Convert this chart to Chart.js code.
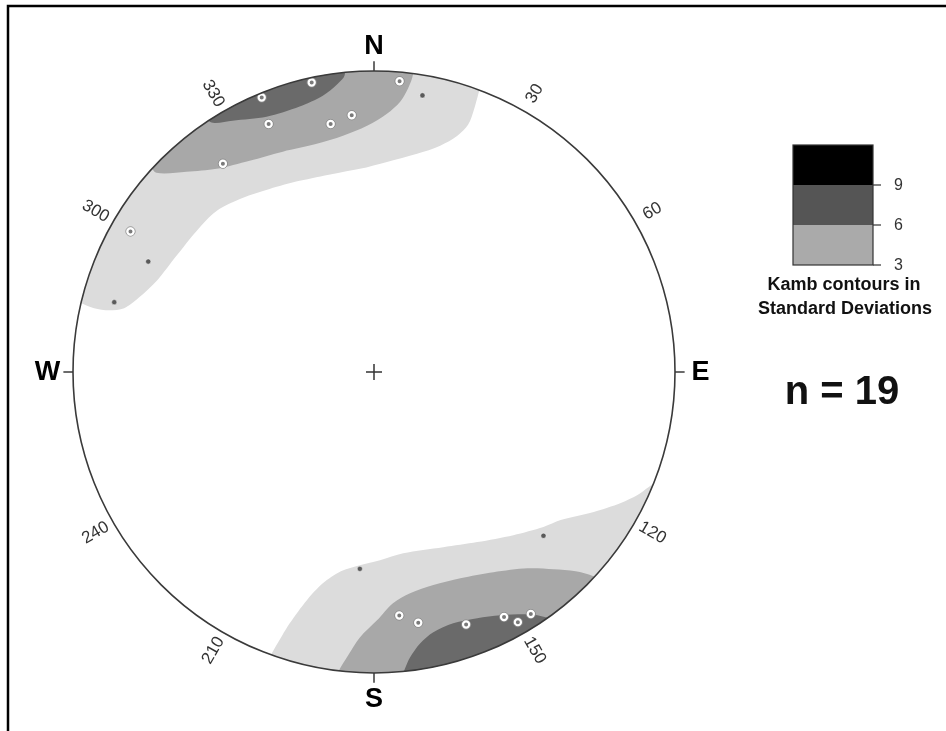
<!DOCTYPE html>
<html>
<head>
<meta charset="utf-8">
<script src="https://cdn.jsdelivr.net/npm/chart.js@4/dist/chart.umd.min.js"></script>
<style>
  html, body { margin: 0; padding: 0; background: #ffffff; }
  canvas { display: block; }
</style>
</head>
<body>
<canvas id="net" width="946" height="731"></canvas>
<script>
// Poles on the equal-area net, in unit-circle coordinates (east = +x, north = +y)
const poleX = [-0.373, -0.207, 0.085, 0.161, -0.350, -0.144, -0.074, -0.502,
               -0.809, -0.750, -0.863,
               -0.047, 0.563, 0.084, 0.147, 0.306, 0.432, 0.478, 0.521];
const poleY = [0.912, 0.962, 0.966, 0.919, 0.824, 0.824, 0.853, 0.692,
               0.467, 0.367, 0.232,
               -0.654, -0.544, -0.809, -0.833, -0.839, -0.814, -0.831, -0.804];
// true = pole drawn with a white halo
const poleHalo = [true, true, true, false, true, true, true, true,
                  true, false, false,
                  false, false, true, true, true, true, true, true];

// Kamb contour outlines (unit-circle coordinates); anything beyond the primitive circle is clipped
const north3 = [[-0.98, 0.232], [-0.93, 0.212], [-0.88, 0.205], [-0.83, 0.212], [-0.78, 0.248],
                [-0.72, 0.305], [-0.657, 0.385], [-0.59, 0.468], [-0.523, 0.535], [-0.437, 0.578],
                [-0.347, 0.608], [-0.247, 0.635], [-0.137, 0.658], [-0.047, 0.675], [0.043, 0.698],
                [0.143, 0.725], [0.22, 0.752], [0.277, 0.785], [0.313, 0.822], [0.333, 0.875],
                [0.347, 0.925], [0.36, 0.975], [0.42, 1.3], [0.0, 1.45], [-0.7, 1.3],
                [-1.35, 0.7], [-1.35, 0.232], [-1.05, 0.232]];
const north6 = [[-0.747, 0.692], [-0.723, 0.662], [-0.623, 0.665], [-0.523, 0.675], [-0.413, 0.702],
                [-0.303, 0.732], [-0.19, 0.758], [-0.103, 0.785], [-0.023, 0.818], [0.043, 0.858],
                [0.087, 0.898], [0.113, 0.942], [0.13, 0.992], [0.15, 1.25], [-0.3, 1.35],
                [-0.95, 1.05], [-0.9, 0.75]];
const north9 = [[-0.57, 0.85], [-0.535, 0.828], [-0.47, 0.835], [-0.357, 0.848], [-0.247, 0.882],
                [-0.17, 0.918], [-0.123, 0.955], [-0.097, 0.988], [-0.1, 1.2], [-0.5, 1.15],
                [-0.7, 0.98]];
const south3 = [[-0.353, -0.958], [-0.33, -0.918], [-0.28, -0.835], [-0.223, -0.758], [-0.17, -0.702],
                [-0.11, -0.662], [-0.047, -0.642], [0.02, -0.625], [0.097, -0.602], [0.23, -0.582],
                [0.343, -0.565], [0.463, -0.542], [0.563, -0.515], [0.62, -0.492], [0.73, -0.465],
                [0.82, -0.435], [0.877, -0.408], [0.913, -0.382], [0.953, -0.358], [1.25, -0.4],
                [1.15, -1.05], [0.3, -1.35], [-0.5, -1.25]];
const south6 = [[-0.13, -1.018], [-0.113, -0.985], [-0.09, -0.948], [-0.047, -0.882], [0.01, -0.825],
                [0.063, -0.768], [0.12, -0.735], [0.197, -0.708], [0.287, -0.685], [0.397, -0.665],
                [0.51, -0.652], [0.597, -0.655], [0.67, -0.662], [0.727, -0.678], [0.77, -0.708],
                [1.05, -1.0], [0.3, -1.35], [-0.1, -1.25]];
const south9 = [[0.087, -1.025], [0.103, -0.985], [0.12, -0.948], [0.153, -0.902], [0.197, -0.865],
                [0.263, -0.835], [0.343, -0.818], [0.42, -0.808], [0.497, -0.805], [0.543, -0.808],
                [0.57, -0.815], [0.62, -0.825], [0.95, -1.0], [0.4, -1.35], [0.1, -1.25]];

// Contour fills on the net and the colour-bar scale
const contourFills = ['#dcdcdc', '#a8a8a8', '#6a6a6a'];
const kambLevels = [3, 6, 9];
const kambColors = ['#aaaaaa', '#555555', '#000000'];

// Rim labels
const azimuthLabels = [30, 60, 120, 150, 210, 240, 300, 330];
const cardinalNames = ['N', 'E', 'S', 'W'];
const cardinalAzimuths = [0, 90, 180, 270];

const FONT = "'Liberation Sans', Arial, Helvetica, sans-serif";

function toXY(list) { return list.map(p => ({ x: p[0], y: p[1] })); }

function contourDataset(pts, color, order) {
  return {
    type: 'line',
    data: toXY(pts),
    backgroundColor: color,
    borderWidth: 0,
    borderColor: 'rgba(0,0,0,0)',
    pointRadius: 0,
    pointHoverRadius: 0,
    fill: 'shape',
    tension: 0.3,
    order: order
  };
}

const haloPts = [], plainPts = [];
poleX.forEach((x, i) => (poleHalo[i] ? haloPts : plainPts).push({ x: x, y: poleY[i] }));

function geom(chart) {
  const xs = chart.scales.x, ys = chart.scales.y;
  const cx = xs.getPixelForValue(0), cy = ys.getPixelForValue(0);
  const r = xs.getPixelForValue(1) - cx;
  const at = (az, k) => {
    const a = az * Math.PI / 180;
    return { x: xs.getPixelForValue(k * Math.sin(a)), y: ys.getPixelForValue(k * Math.cos(a)) };
  };
  return { cx, cy, r, at };
}

// Clips the contour fills to the primitive circle and draws the net furniture
const stereonetPlugin = {
  id: 'stereonet',
  beforeDatasetsDraw(chart) {
    const { ctx } = chart;
    const g = geom(chart);
    ctx.save();
    ctx.beginPath();
    ctx.arc(g.cx, g.cy, g.r, 0, Math.PI * 2);
    ctx.clip();
  },
  afterDatasetsDraw(chart) {
    const { ctx } = chart;
    ctx.restore();
    const g = geom(chart);

    // outer frame
    ctx.save();
    ctx.strokeStyle = '#000';
    ctx.lineWidth = 2.5;
    ctx.beginPath();
    ctx.moveTo(8, 731);
    ctx.lineTo(8, 6);
    ctx.lineTo(946, 6);
    ctx.stroke();

    // primitive circle
    ctx.strokeStyle = '#3a3a3a';
    ctx.lineWidth = 1.6;
    ctx.beginPath();
    ctx.arc(g.cx, g.cy, g.r, 0, Math.PI * 2);
    ctx.stroke();

    // cardinal ticks and letters
    ctx.lineWidth = 1.5;
    ctx.fillStyle = '#000';
    ctx.font = 'bold 27px ' + FONT;
    ctx.textAlign = 'center';
    ctx.textBaseline = 'middle';
    cardinalNames.forEach((name, i) => {
      const p0 = g.at(cardinalAzimuths[i], 1.0);
      const p1 = g.at(cardinalAzimuths[i], 1.032);
      ctx.beginPath();
      ctx.moveTo(p0.x, p0.y);
      ctx.lineTo(p1.x, p1.y);
      ctx.stroke();
      const pl = g.at(cardinalAzimuths[i], 1.085);
      ctx.fillText(name, pl.x, pl.y + 1);
    });

    // azimuth numbers, written along the radius
    ctx.fillStyle = '#333';
    ctx.font = '17px ' + FONT;
    azimuthLabels.forEach(az => {
      const p = g.at(az, 1.068);
      let rot = (az - 90) * Math.PI / 180;
      if (az > 180) rot += Math.PI;
      ctx.save();
      ctx.translate(p.x, p.y);
      ctx.rotate(rot);
      ctx.fillText(String(az), 0, 0);
      ctx.restore();
    });

    // Kamb colour bar
    const bx = 793, bw = 80, bTop = 145, bh = 40;
    const bands = kambLevels.length;
    for (let i = 0; i < bands; i++) {
      ctx.fillStyle = kambColors[i];
      ctx.fillRect(bx, bTop + (bands - 1 - i) * bh, bw, bh);
    }
    ctx.strokeStyle = '#333';
    ctx.lineWidth = 1.2;
    ctx.strokeRect(bx, bTop, bw, bh * bands);
    ctx.fillStyle = '#333';
    ctx.font = '16px ' + FONT;
    ctx.textAlign = 'left';
    kambLevels.forEach((lv, i) => {
      const y = bTop + (bands - i) * bh;
      ctx.beginPath();
      ctx.moveTo(bx + bw, y);
      ctx.lineTo(bx + bw + 8, y);
      ctx.stroke();
      ctx.fillText(String(lv), bx + bw + 21, y + 1);
    });
    ctx.fillStyle = '#111';
    ctx.font = 'bold 18px ' + FONT;
    ctx.textAlign = 'center';
    ctx.fillText('Kamb contours in', 844, 285);
    ctx.fillText('Standard Deviations', 845, 309);

    ctx.fillStyle = '#111';
    ctx.font = 'bold 40px ' + FONT;
    ctx.fillText('n = ' + poleX.length, 842, 393);
    ctx.restore();
  }
};

new Chart(document.getElementById('net'), {
  type: 'scatter',
  data: {
    datasets: [
      { data: haloPts, pointRadius: 3.1, pointBorderWidth: 2.2, pointBackgroundColor: '#7a7a7a',
        pointBorderColor: '#ffffff', pointHoverRadius: 3.1, order: 0 },
      { data: haloPts, pointRadius: 4.6, pointBorderWidth: 1, pointBackgroundColor: 'rgba(0,0,0,0)',
        pointBorderColor: '#8a8a8a', pointHoverRadius: 4.6, order: 0.5 },
      { data: plainPts, pointRadius: 2.6, pointBorderWidth: 0.8, pointBackgroundColor: '#5a5a5a',
        pointBorderColor: 'rgba(255,255,255,0.6)', pointHoverRadius: 2.6, order: 0 },
      { data: [{ x: 0, y: 0 }], pointStyle: 'cross', pointRadius: 8, pointBorderWidth: 1.5,
        pointBorderColor: '#333', pointHoverRadius: 8, order: 1 },
      contourDataset(north9, contourFills[2], 2),
      contourDataset(south9, contourFills[2], 2),
      contourDataset(north6, contourFills[1], 3),
      contourDataset(south6, contourFills[1], 3),
      contourDataset(north3, contourFills[0], 4),
      contourDataset(south3, contourFills[0], 4)
    ]
  },
  options: {
    responsive: false,
    animation: false,
    layout: { padding: { left: 73, right: 271, top: 71, bottom: 58 } },
    scales: {
      x: { type: 'linear', min: -1, max: 1, display: false },
      y: { type: 'linear', min: -1, max: 1, display: false }
    },
    plugins: { legend: { display: false }, tooltip: { enabled: false } },
    elements: { line: { capBezierPoints: false } }
  },
  plugins: [stereonetPlugin]
});
</script>
</body>
</html>
